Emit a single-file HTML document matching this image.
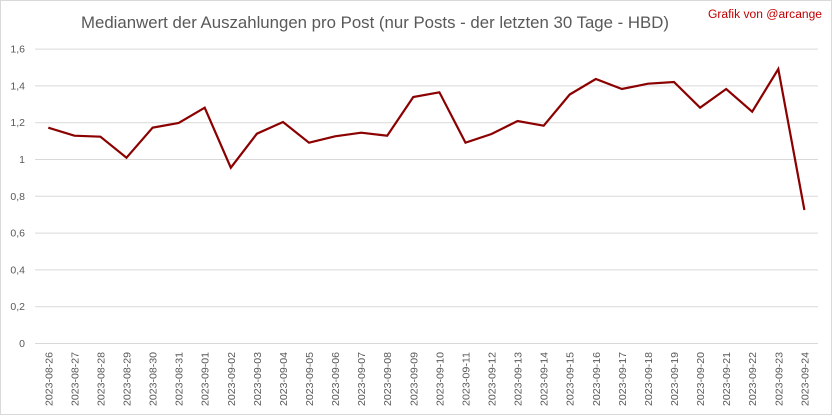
<!DOCTYPE html>
<html><head><meta charset="utf-8"><style>
html,body{margin:0;padding:0;background:#fff;}
svg{display:block;}
text{font-family:"Liberation Sans",Arial,sans-serif;}
</style></head><body>
<svg width="833" height="416" viewBox="0 0 833 416" xmlns="http://www.w3.org/2000/svg">
<rect x="0" y="0" width="833" height="416" fill="#fff"/>
<rect x="0.5" y="0.5" width="831" height="414" fill="none" stroke="#d9d9d9" stroke-width="1"/>
<text x="375" y="28" text-anchor="middle" font-size="16.5" fill="#595959" textLength="588" lengthAdjust="spacingAndGlyphs">Medianwert der Auszahlungen pro Post (nur Posts - der letzten 30 Tage - HBD)</text>
<text x="708" y="18" font-size="11.5" fill="#c00000" textLength="114" lengthAdjust="spacingAndGlyphs">Grafik von @arcange</text>
<g stroke="#d9d9d9" stroke-width="1">
<line x1="35" x2="818" y1="49.1" y2="49.1"/>
<line x1="35" x2="818" y1="85.9" y2="85.9"/>
<line x1="35" x2="818" y1="122.7" y2="122.7"/>
<line x1="35" x2="818" y1="159.5" y2="159.5"/>
<line x1="35" x2="818" y1="196.3" y2="196.3"/>
<line x1="35" x2="818" y1="233.1" y2="233.1"/>
<line x1="35" x2="818" y1="269.9" y2="269.9"/>
<line x1="35" x2="818" y1="306.7" y2="306.7"/>
<line x1="35" x2="818" y1="343.5" y2="343.5"/>
</g>
<g font-size="10.5" fill="#595959" text-anchor="end">
<text x="25" y="52.6">1,6</text>
<text x="25" y="89.4">1,4</text>
<text x="25" y="126.2">1,2</text>
<text x="25" y="163">1</text>
<text x="25" y="199.8">0,8</text>
<text x="25" y="236.6">0,6</text>
<text x="25" y="273.4">0,4</text>
<text x="25" y="310.2">0,2</text>
<text x="25" y="347">0</text>
</g>
<polyline fill="none" stroke="#8b0000" stroke-width="2.2" stroke-linejoin="miter" points="48.3,127.7 74.4,135.7 100.4,136.7 126.5,157.7 152.6,127.7 178.7,123 204.7,107.7 230.8,167.7 256.9,133.7 283,122 309,142.7 335.1,136.3 361.2,132.7 387.2,135.7 413.3,97 439.4,92.3 465.5,142.7 491.5,134 517.6,121 543.7,125.7 569.7,94.5 595.8,79 621.9,89 648,83.7 674,82 700.1,107.7 726.2,89 752.2,111.7 778.3,69 804.4,210"/>
<g font-size="10.5" fill="#595959" text-anchor="end">
<text transform="translate(52.3,352) rotate(-90)" textLength="54" lengthAdjust="spacingAndGlyphs">2023-08-26</text>
<text transform="translate(78.4,352) rotate(-90)" textLength="54" lengthAdjust="spacingAndGlyphs">2023-08-27</text>
<text transform="translate(104.4,352) rotate(-90)" textLength="54" lengthAdjust="spacingAndGlyphs">2023-08-28</text>
<text transform="translate(130.5,352) rotate(-90)" textLength="54" lengthAdjust="spacingAndGlyphs">2023-08-29</text>
<text transform="translate(156.6,352) rotate(-90)" textLength="54" lengthAdjust="spacingAndGlyphs">2023-08-30</text>
<text transform="translate(182.7,352) rotate(-90)" textLength="54" lengthAdjust="spacingAndGlyphs">2023-08-31</text>
<text transform="translate(208.7,352) rotate(-90)" textLength="54" lengthAdjust="spacingAndGlyphs">2023-09-01</text>
<text transform="translate(234.8,352) rotate(-90)" textLength="54" lengthAdjust="spacingAndGlyphs">2023-09-02</text>
<text transform="translate(260.9,352) rotate(-90)" textLength="54" lengthAdjust="spacingAndGlyphs">2023-09-03</text>
<text transform="translate(287,352) rotate(-90)" textLength="54" lengthAdjust="spacingAndGlyphs">2023-09-04</text>
<text transform="translate(313,352) rotate(-90)" textLength="54" lengthAdjust="spacingAndGlyphs">2023-09-05</text>
<text transform="translate(339.1,352) rotate(-90)" textLength="54" lengthAdjust="spacingAndGlyphs">2023-09-06</text>
<text transform="translate(365.2,352) rotate(-90)" textLength="54" lengthAdjust="spacingAndGlyphs">2023-09-07</text>
<text transform="translate(391.2,352) rotate(-90)" textLength="54" lengthAdjust="spacingAndGlyphs">2023-09-08</text>
<text transform="translate(417.3,352) rotate(-90)" textLength="54" lengthAdjust="spacingAndGlyphs">2023-09-09</text>
<text transform="translate(443.4,352) rotate(-90)" textLength="54" lengthAdjust="spacingAndGlyphs">2023-09-10</text>
<text transform="translate(469.5,352) rotate(-90)" textLength="54" lengthAdjust="spacingAndGlyphs">2023-09-11</text>
<text transform="translate(495.5,352) rotate(-90)" textLength="54" lengthAdjust="spacingAndGlyphs">2023-09-12</text>
<text transform="translate(521.6,352) rotate(-90)" textLength="54" lengthAdjust="spacingAndGlyphs">2023-09-13</text>
<text transform="translate(547.7,352) rotate(-90)" textLength="54" lengthAdjust="spacingAndGlyphs">2023-09-14</text>
<text transform="translate(573.7,352) rotate(-90)" textLength="54" lengthAdjust="spacingAndGlyphs">2023-09-15</text>
<text transform="translate(599.8,352) rotate(-90)" textLength="54" lengthAdjust="spacingAndGlyphs">2023-09-16</text>
<text transform="translate(625.9,352) rotate(-90)" textLength="54" lengthAdjust="spacingAndGlyphs">2023-09-17</text>
<text transform="translate(652,352) rotate(-90)" textLength="54" lengthAdjust="spacingAndGlyphs">2023-09-18</text>
<text transform="translate(678,352) rotate(-90)" textLength="54" lengthAdjust="spacingAndGlyphs">2023-09-19</text>
<text transform="translate(704.1,352) rotate(-90)" textLength="54" lengthAdjust="spacingAndGlyphs">2023-09-20</text>
<text transform="translate(730.2,352) rotate(-90)" textLength="54" lengthAdjust="spacingAndGlyphs">2023-09-21</text>
<text transform="translate(756.2,352) rotate(-90)" textLength="54" lengthAdjust="spacingAndGlyphs">2023-09-22</text>
<text transform="translate(782.3,352) rotate(-90)" textLength="54" lengthAdjust="spacingAndGlyphs">2023-09-23</text>
<text transform="translate(808.4,352) rotate(-90)" textLength="54" lengthAdjust="spacingAndGlyphs">2023-09-24</text>
</g>
</svg>
</body></html>
